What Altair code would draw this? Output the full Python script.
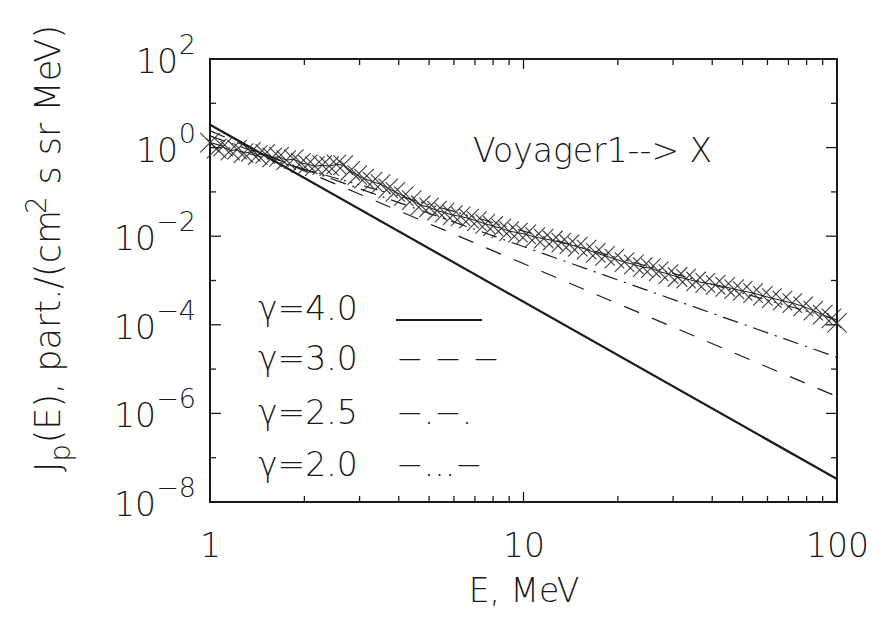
import altair as alt
import pandas as pd

# ---------------- data ----------------
E_OBS = [1.00, 1.05, 1.10, 1.16, 1.22, 1.28, 1.35, 1.42, 1.50, 1.58, 1.66, 1.75,
         1.85, 1.95, 2.05, 2.16, 2.28, 2.40, 2.53, 2.66, 2.80, 2.95, 3.10, 3.30,
         3.50, 3.70, 3.90, 4.15, 4.40, 4.70, 5.00, 5.30, 5.60, 5.95, 6.30, 6.70,
         7.10, 7.55, 8.00, 8.50, 9.00, 9.60, 10.2, 10.9, 11.6, 12.4, 13.2, 14.0,
         14.9, 15.9, 17.0, 18.2, 19.5, 21.0, 22.5, 24.0, 25.5, 27.0, 29.0, 31.0,
         33.0, 35.5, 38.0, 41.0, 44.0, 47.0, 50.0, 54.0, 58.0, 62.0, 67.0, 72.0,
         78.0, 84.0, 90.0, 96.0, 100.0]
J_OBS = [1.3, 0.95, 1.05, 0.85, 0.9, 0.75, 0.8, 0.68, 0.72, 0.6, 0.62, 0.52,
         0.55, 0.45, 0.42, 0.38, 0.40, 0.38, 0.42, 0.40, 0.30, 0.24, 0.20, 0.17,
         0.15, 0.12, 0.10, 0.08, 0.065, 0.05, 0.045, 0.038, 0.034, 0.030, 0.028, 0.025,
         0.022, 0.019, 0.017, 0.015, 0.013, 0.012, 0.011, 0.0095, 0.0088, 0.0080, 0.0072, 0.0065,
         0.0058, 0.0050, 0.0042, 0.0036, 0.0031, 0.0026, 0.0023, 0.0020, 0.0019, 0.0016, 0.0014, 0.0012,
         0.0011, 0.00095, 0.00088, 0.00080, 0.00072, 0.00064, 0.00058, 0.00052, 0.00045, 0.00040, 0.00035, 0.00031,
         0.00026, 0.00021, 0.00017, 0.00014, 0.00011]

E_MODEL = [1.0, 100.0]
J_G40 = [3.3, 3.3e-8]
J_G30 = [2.4, 2.4e-6]
J_G25 = [1.84, 1.84e-5]
J_G20 = [1.3, 1.3e-4]

LEGEND_LABELS = ["\u03b3=4.0", "\u03b3=3.0", "\u03b3=2.5", "\u03b3=2.0"]
LEGEND_SAMPLES = ["", "\u2212 \u2212 \u2212", "\u2212.\u2212.", "\u2212...\u2212"]

X_LABELS = [1, 10, 100]
X_MINOR = [2, 3, 4, 5, 6, 7, 8, 9, 20, 30, 40, 50, 60, 70, 80, 90]
Y_MAJOR = [1e2, 1e0, 1e-2, 1e-4, 1e-6, 1e-8]
Y_MAJOR_EXP = ["2", "0", "\u22122", "\u22124", "\u22126", "\u22128"]
Y_MINOR = [1e1, 1e-1, 1e-3, 1e-5, 1e-7]

ANNOT = "Voyager1--> X"
X_TITLE = "E, MeV"
# y title pieces: (text, role, leading space in em)  role: main / sub / sup
Y_TITLE_PARTS = [("J", "main", 0.0), ("p", "sub", 0.0), ("(E), part./(cm", "main", 0.0),
                 ("2", "sup", 0.0), ("s sr MeV)", "main", 0.32)]

# ---------------- layout / style ----------------
W, H = 627, 443
FONT = "DejaVu Sans"
WEIGHT = 200
INK = "#1a1a1a"
FS = 33

xs = alt.Scale(type="log", domain=[1, 100], nice=False)
ys = alt.Scale(type="log", domain=[1e-8, 1e2], nice=False)

x_axis = alt.Axis(values=X_LABELS, format="~g", ticks=False, domain=False, grid=False,
                  labelFontSize=FS, labelFont=FONT, labelFontWeight=WEIGHT, labelColor=INK,
                  labelFlush=False, labelPadding=28, title=X_TITLE, titleFontSize=FS,
                  titleFont=FONT, titleFontWeight=WEIGHT, titleColor=INK, titlePadding=12)

obs = pd.DataFrame({"E": E_OBS, "J": J_OBS})

def X(field="E"):
    return alt.X(f"{field}:Q", scale=xs, axis=x_axis)

def Y(field="J"):
    return alt.Y(f"{field}:Q", scale=ys, axis=None)

def txt(**kw):
    base = dict(font=FONT, fontWeight=WEIGHT, color=INK, fontSize=FS)
    base.update(kw)
    return base

layers = []

# model curves
model_styles = [(J_G40, [], 2.2), (J_G30, [16, 14], 1.2), (J_G25, [16, 7, 2, 7], 1.2),
                (J_G20, [14, 5, 2, 5, 2, 5, 2, 5], 1.1)]
for vals, dash, sw in model_styles:
    df = pd.DataFrame({"E": E_MODEL, "J": vals})
    kw = dict(color=INK, strokeWidth=sw, clip=True)
    if dash:
        kw["strokeDash"] = dash
    layers.append(alt.Chart(df).mark_line(**kw).encode(x=X(), y=Y()))

# observations: connected X symbols
layers.append(alt.Chart(obs).mark_line(color=INK, strokeWidth=1.0).encode(x=X(), y=Y()))
layers.append(alt.Chart(obs).mark_point(shape="M-1,-1L1,1M-1,1L1,-1", size=380, filled=False,
                                        strokeWidth=1.1, color="#2a2a2a", opacity=0.9)
              .encode(x=X(), y=Y()))

# inward ticks (IDL box style)
xmaj = pd.DataFrame({"E": X_LABELS})
xmin = pd.DataFrame({"E": X_MINOR})
for d, ln in ((xmaj, 10), (xmin, 6)):
    layers.append(alt.Chart(d).mark_rule(color=INK, strokeWidth=1.3)
                  .encode(x=X(), y=alt.value(H), y2=alt.value(H - ln)))
    layers.append(alt.Chart(d).mark_rule(color=INK, strokeWidth=1.3)
                  .encode(x=X(), y=alt.value(0), y2=alt.value(ln)))
ymaj = pd.DataFrame({"J": Y_MAJOR, "exp": Y_MAJOR_EXP})
ymin = pd.DataFrame({"J": Y_MINOR})
for d, ln in ((ymaj, 11), (ymin, 6)):
    layers.append(alt.Chart(d).mark_rule(color=INK, strokeWidth=1.3)
                  .encode(y=Y(), x=alt.value(0), x2=alt.value(ln)))
    layers.append(alt.Chart(d).mark_rule(color=INK, strokeWidth=1.3)
                  .encode(y=Y(), x=alt.value(W), x2=alt.value(W - ln)))

# y tick labels: "10" + superscript exponent
EXP_FS = 27
pos = ymaj[~ymaj["exp"].str.startswith("\u2212")]
neg = ymaj[ymaj["exp"].str.startswith("\u2212")]
layers.append(alt.Chart(ymaj).mark_text(**txt(align="right", baseline="middle",
                                              fontSize=EXP_FS, dy=-13))
              .encode(y=Y(), x=alt.value(-14), text="exp:N"))
layers.append(alt.Chart(pos).mark_text(**txt(align="right", baseline="middle", dy=4))
              .encode(y=Y(), x=alt.value(-14 - 18), text=alt.value("10")))
layers.append(alt.Chart(neg).mark_text(**txt(align="right", baseline="middle", dy=4))
              .encode(y=Y(), x=alt.value(-14 - 40), text=alt.value("10")))

# y axis title, built from rotated pieces (sub/superscripts)
TFS, TFS_S = 35, 28
adv = {"J": 0.295, "p": 0.62, "(E), part./(cm": 6.55, "2": 0.62, "s sr MeV)": 4.6}
base_x = -150          # baseline (plot px)
start_y = 413          # bottom of the rotated string (plot px)
cur = start_y
for piece, role, lead in Y_TITLE_PARTS:
    size = TFS if role == "main" else TFS_S
    cur -= lead * size
    bx = base_x + (10 if role == "sub" else (-14 if role == "sup" else 0))
    layers.append(alt.Chart(pd.DataFrame({"t": [piece]})).mark_text(
        **txt(angle=270, align="left", baseline="alphabetic", fontSize=size))
        .encode(x=alt.value(bx), y=alt.value(cur), text="t:N"))
    cur -= adv[piece] * size + (1 if role != "main" else 0)

# annotation
layers.append(alt.Chart(pd.DataFrame({"t": [ANNOT]})).mark_text(
    **txt(align="left", baseline="middle"))
    .encode(x=alt.value(263), y=alt.value(93), text="t:N"))

# legend
row_y = [251, 301, 355, 407]
for lab, samp, yy in zip(LEGEND_LABELS, LEGEND_SAMPLES, row_y):
    layers.append(alt.Chart(pd.DataFrame({"t": [lab]})).mark_text(
        **txt(align="left", baseline="middle"))
        .encode(x=alt.value(48), y=alt.value(yy), text="t:N"))
    if samp:
        layers.append(alt.Chart(pd.DataFrame({"t": [samp]})).mark_text(
            **txt(align="left", baseline="middle"))
            .encode(x=alt.value(186), y=alt.value(yy), text="t:N"))
    else:
        layers.append(alt.Chart(pd.DataFrame({"t": [lab]})).mark_rule(color=INK, strokeWidth=2)
                      .encode(x=alt.value(186), x2=alt.value(272), y=alt.value(yy + 10)))

chart = alt.layer(*layers).properties(
    width=W, height=H,
    autosize=alt.AutoSizeParams(type="none"),
    padding={"left": 210, "top": 59, "right": 36, "bottom": 115},
    background="white",
).configure_view(stroke=INK, strokeWidth=2)

chart.save("out.html", embed_options={"renderer": "svg", "actions": False})
